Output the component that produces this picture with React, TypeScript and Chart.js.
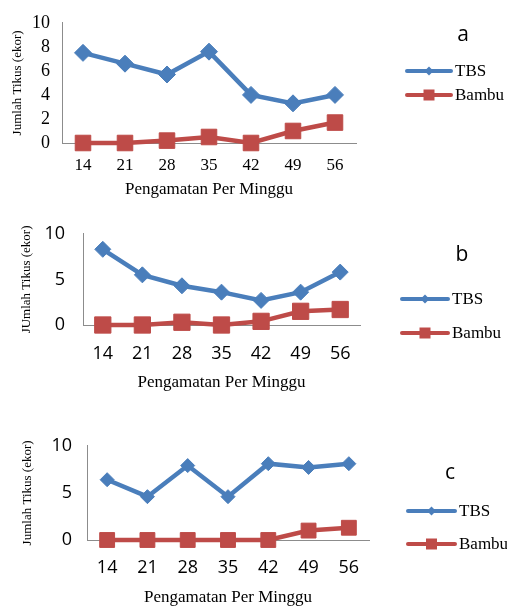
import React, { useEffect, useRef } from 'react';
import { Chart, registerables } from 'chart.js';

Chart.register(...registerables);

// ---------- data ----------
const weeks = ['14', '21', '28', '35', '42', '49', '56'];
const seriesNames = ['TBS', 'Bambu'];
const panelLabels = ['a', 'b', 'c'];

const tbsA = [7.5, 6.6, 5.7, 7.6, 4.0, 3.3, 4.0];
const bambuA = [0, 0, 0.2, 0.5, 0, 1.0, 1.7];

const tbsB = [8.3, 5.5, 4.3, 3.6, 2.7, 3.6, 5.8];
const bambuB = [0, 0, 0.3, 0, 0.4, 1.5, 1.7];

const tbsC = [6.4, 4.6, 7.9, 4.6, 8.1, 7.7, 8.1];
const bambuC = [0, 0, 0, 0, 0, 1.0, 1.3];

const yStepA = 2;
const yStepBC = 5;
const yMax = 10;

const yTitleA = 'Jumlah Tikus (ekor)';
const yTitleB = 'JUmlah Tikus (ekor)';
const yTitleC = 'Jumlah Tikus (ekor)';
const xTitle = 'Pengamatan Per Minggu';

// ---------- styles ----------
const BLUE = '#4A7EBB';
const RED = '#BE4B48';
const AXIS = '#8C8C8C';
const SERIF = "'Liberation Serif', 'Times New Roman', serif";
const SANS = "'Open Sans', 'Liberation Sans', sans-serif";

type PanelCfg = {
  top: number;
  height: number;
  plot: { l: number; r: number; t: number; b: number };
  tickFamily: string;
  xTickSize: number;
  yTickSize: number;
  xTickPad: number;
  yTickPad: number;
  yTitlePad: number;
  xTitlePad: number;
  dR: number;
  sR: number;
  step: number;
  yTitle: string;
  label: string;
  labelX: number;
  labelY: number;
  legX0: number;
  legX1: number;
  legY1: number;
  legY2: number;
  legFont: number;
  tbs: number[];
  bambu: number[];
};

const panels: PanelCfg[] = [
  {
    top: 0, height: 200,
    plot: { l: 62, r: 356, t: 20, b: 143 },
    tickFamily: SERIF, xTickSize: 17, yTickSize: 18, xTickPad: 12, yTickPad: 12,
    yTitlePad: 10, xTitlePad: 0, dR: 8.5, sR: 11, step: yStepA, yTitle: yTitleA,
    label: panelLabels[0], labelX: 463, labelY: 35,
    legX0: 407, legX1: 451, legY1: 71, legY2: 95, legFont: 17,
    tbs: tbsA, bambu: bambuA,
  },
  {
    top: 205, height: 195,
    plot: { l: 83, r: 360, t: 28, b: 120 },
    tickFamily: SANS, xTickSize: 18, yTickSize: 18, xTickPad: 18, yTickPad: 18,
    yTitlePad: 19, xTitlePad: 7, dR: 8, sR: 11.5, step: yStepBC, yTitle: yTitleB,
    label: panelLabels[1], labelX: 462, labelY: 50,
    legX0: 402, legX1: 448, legY1: 94, legY2: 128, legFont: 17,
    tbs: tbsB, bambu: bambuB,
  },
  {
    top: 420, height: 190,
    plot: { l: 87, r: 369, t: 25, b: 120 },
    tickFamily: SANS, xTickSize: 18, yTickSize: 18, xTickPad: 17, yTickPad: 15,
    yTitlePad: 20, xTitlePad: 2, dR: 7, sR: 10.5, step: yStepBC, yTitle: yTitleC,
    label: panelLabels[2], labelX: 450, labelY: 53,
    legX0: 408, legX1: 455, legY1: 91, legY2: 124, legFont: 17,
    tbs: tbsC, bambu: bambuC,
  },
];

const decoPlugin = {
  id: 'panelDeco',
  afterDraw(chart: any, _args: any, opts: any) {
    const ctx = chart.ctx as CanvasRenderingContext2D;
    ctx.save();
    // panel letter
    ctx.fillStyle = '#000';
    ctx.font = `21px ${SANS}`;
    ctx.textAlign = 'center';
    ctx.textBaseline = 'middle';
    ctx.fillText(opts.label, opts.labelX, opts.labelY);

    // legend
    const rows = [opts.legY1, opts.legY2];
    chart.data.datasets.forEach((ds: any, i: number) => {
      const y = rows[i];
      ctx.strokeStyle = ds.borderColor;
      ctx.fillStyle = ds.borderColor;
      ctx.lineWidth = 4;
      ctx.lineCap = 'round';
      ctx.beginPath();
      ctx.moveTo(opts.legX0, y);
      ctx.lineTo(opts.legX1, y);
      ctx.stroke();
      const cx = (opts.legX0 + opts.legX1) / 2;
      ctx.beginPath();
      if (ds.pointStyle === 'rectRot') {
        const r = 4.5;
        ctx.moveTo(cx - r, y);
        ctx.lineTo(cx, y - r);
        ctx.lineTo(cx + r, y);
        ctx.lineTo(cx, y + r);
        ctx.closePath();
      } else {
        const h = 5.5;
        ctx.rect(cx - h, y - h, 2 * h, 2 * h);
      }
      ctx.fill();
      ctx.fillStyle = '#000';
      ctx.font = `${opts.legFont}px ${SERIF}`;
      ctx.textAlign = 'left';
      ctx.textBaseline = 'middle';
      ctx.fillText(ds.label, opts.legX1 + 4, y + 1);
    });
    ctx.restore();
  },
};

function Panel({ cfg }: { cfg: PanelCfg }) {
  const ref = useRef<HTMLCanvasElement | null>(null);
  useEffect(() => {
    if (!ref.current) return;
    const { plot } = cfg;
    const chart = new Chart(ref.current, {
      type: 'line',
      data: {
        labels: weeks,
        datasets: [
          {
            label: seriesNames[0],
            data: cfg.tbs,
            borderColor: BLUE,
            backgroundColor: BLUE,
            pointBackgroundColor: BLUE,
            pointBorderColor: BLUE,
            borderWidth: 4.5,
            pointStyle: 'rectRot',
            pointRadius: cfg.dR,
            pointBorderWidth: 1,
            tension: 0,
            clip: false as any,
          },
          {
            label: seriesNames[1],
            data: cfg.bambu,
            borderColor: RED,
            backgroundColor: RED,
            pointBackgroundColor: RED,
            pointBorderColor: RED,
            borderWidth: 4.5,
            pointStyle: 'rect',
            pointRadius: cfg.sR,
            pointBorderWidth: 1,
            tension: 0,
            clip: false as any,
          },
        ],
      },
      options: {
        responsive: false,
        animation: false,
        events: [],
        layout: { padding: { left: 0, top: plot.t, right: 507 - plot.r, bottom: 0 } },
        plugins: {
          legend: { display: false },
          tooltip: { enabled: false },
          panelDeco: {
            label: cfg.label, labelX: cfg.labelX, labelY: cfg.labelY,
            legX0: cfg.legX0, legX1: cfg.legX1, legY1: cfg.legY1, legY2: cfg.legY2,
            legFont: cfg.legFont,
          },
        } as any,
        scales: {
          x: {
            type: 'category',
            offset: true,
            grid: { display: false, drawTicks: false },
            border: { display: true, color: AXIS, width: 1 },
            ticks: { color: '#000', padding: cfg.xTickPad, font: { family: cfg.tickFamily, size: cfg.xTickSize }, maxRotation: 0, autoSkip: false },
            title: { display: true, text: xTitle, color: '#000', font: { family: SERIF, size: 17 }, padding: { top: 0, bottom: cfg.xTitlePad } },
            afterFit: (s: any) => { s.height = cfg.height - plot.b; },
          },
          y: {
            min: 0,
            max: yMax,
            grid: { display: false, drawTicks: false },
            border: { display: true, color: AXIS, width: 1 },
            ticks: { stepSize: cfg.step, autoSkip: false, color: '#000', padding: cfg.yTickPad, font: { family: cfg.tickFamily, size: cfg.yTickSize } },
            title: { display: true, text: cfg.yTitle, color: '#000', font: { family: SERIF, size: 13 }, padding: { top: cfg.yTitlePad, bottom: 0 } },
            afterFit: (s: any) => { s.width = plot.l; },
          },
        },
      },
      plugins: [decoPlugin],
    });
    return () => chart.destroy();
  }, [cfg]);
  return (
    <canvas
      ref={ref}
      width={507}
      height={cfg.height}
      style={{ position: 'absolute', left: 0, top: cfg.top, width: 507, height: cfg.height, display: 'block' }}
    />
  );
}

export default function App() {
  return (
    <div style={{ position: 'absolute', left: 0, top: 0, width: 507, height: 606, overflow: 'hidden', background: '#fff' }}>
      {panels.map((p, i) => (
        <Panel key={i} cfg={p} />
      ))}
    </div>
  );
}
